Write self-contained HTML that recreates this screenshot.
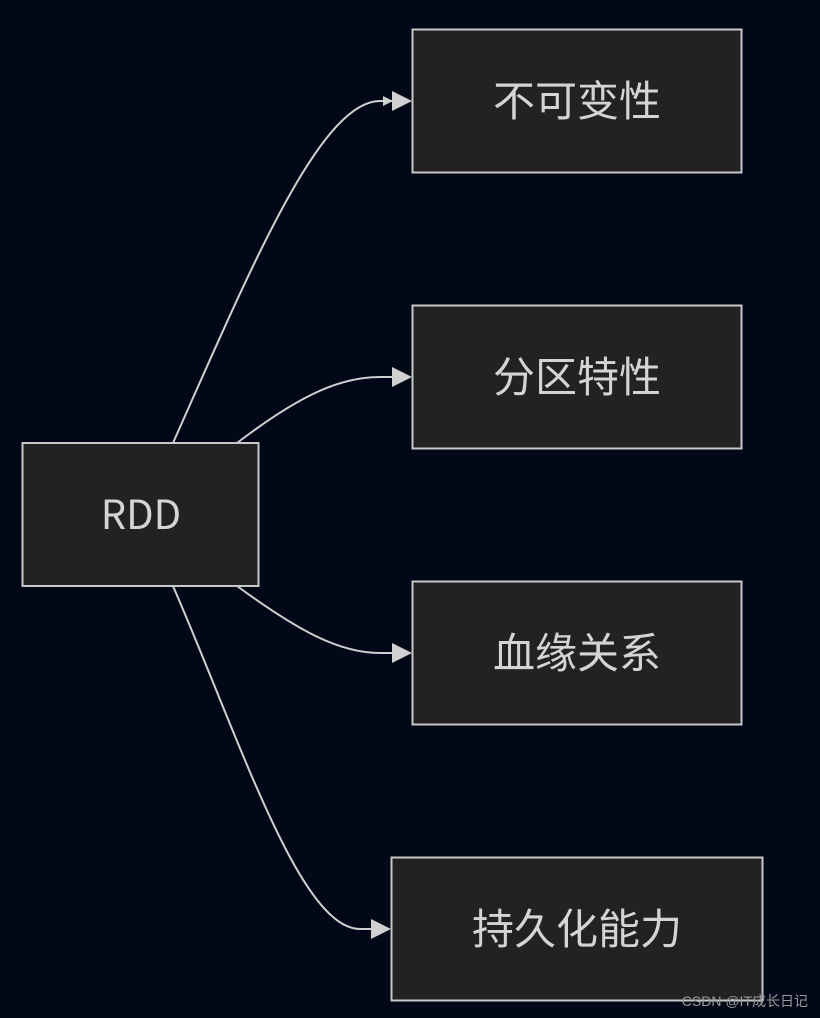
<!DOCTYPE html>
<html><head><meta charset="utf-8"><style>
html,body{margin:0;padding:0;background:#020817;}
svg{display:block}
text{font-family:"Liberation Sans","Noto Sans CJK SC",sans-serif;fill:#d4d4d4}
</style></head><body>
<svg width="820" height="1018" viewBox="0 0 820 1018" xmlns="http://www.w3.org/2000/svg">
<defs><marker id="a" markerWidth="10" markerHeight="10" refX="9" refY="5" orient="auto" markerUnits="userSpaceOnUse" viewBox="0 0 10 10"><path d="M0,0L10,5L0,10z" fill="#d0d0d0"/></marker></defs>
<rect width="820" height="1018" fill="#020817"/>
<g fill="none" stroke="#d0d0d0" stroke-width="2">
<path d="M173,443 C250,270 320,101 380,101 L392,101" marker-end="url(#a)" transform="scale(1)"/>
<path d="M237,443 C300,395 340,377 380,377 L392,377"/>
<path d="M237,586 C300,632 340,653 380,653 L392,653"/>
<path d="M173,586 C240,740 300,929 360,929 L371,929"/>
</g>
<g fill="#d0d0d0">
<path d="M392,91 L412,101 L392,111z"/>
<path d="M392,367 L412,377 L392,387z"/>
<path d="M392,643 L412,653 L392,663z"/>
<path d="M371,919 L391,929 L371,939z"/>
</g>
<g fill="#212221" stroke="#c8c8c8" stroke-width="2">
<rect x="22.5" y="443" width="236" height="143"/>
<rect x="412.5" y="29.5" width="329" height="143"/>
<rect x="412.5" y="305.5" width="329" height="143"/>
<rect x="412.5" y="581.5" width="329" height="143"/>
<rect x="391.5" y="857.5" width="371" height="143"/>
</g>
<g text-anchor="middle" font-size="40">
<text x="141" y="529" font-family="'Noto Sans CJK SC',sans-serif" style="font-family:'Noto Sans CJK SC','DejaVu Sans',sans-serif">RDD</text>
</g>
<g text-anchor="middle" font-size="42" style="font-family:'Noto Sans CJK SC',sans-serif">
<text x="577" y="116">不可变性</text>
<text x="577" y="392">分区特性</text>
<text x="577" y="668">血缘关系</text>
<text x="577" y="944">持久化能力</text>
</g>
<text x="808" y="1006" text-anchor="end" font-size="14" style="fill:#9a9a9a;font-family:'Liberation Sans','Noto Sans CJK SC',sans-serif">CSDN @IT成长日记</text>
</svg>
</body></html>
